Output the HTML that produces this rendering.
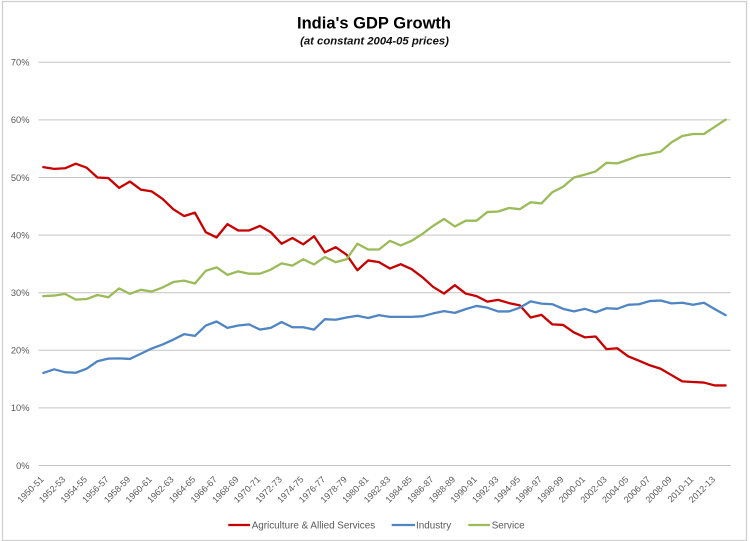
<!DOCTYPE html>
<html>
<head>
<meta charset="utf-8">
<style>
  html, body { margin: 0; padding: 0; background: #ffffff; }
  svg { display: block; }
  text { font-family: "Liberation Sans", "DejaVu Sans", sans-serif; }
</style>
</head>
<body>
<svg width="750" height="541" viewBox="0 0 750 541" xmlns="http://www.w3.org/2000/svg">
  <rect x="0" y="0" width="750" height="541" fill="#ffffff"/>
  <!-- chart border -->
  <rect x="2.5" y="1.5" width="744" height="539" fill="none" stroke="#CFCFCF" stroke-width="1.3"/>

  <!-- title -->
  <text x="374" y="28.5" font-size="16.5" font-weight="bold" fill="#000" text-anchor="middle">India's GDP Growth</text>
  <text x="374.5" y="44.5" font-size="11.3" font-weight="bold" font-style="italic" fill="#111" text-anchor="middle">(at constant 2004-05 prices)</text>

  <!-- gridlines -->
  <g stroke="#C4C4C4" stroke-width="1">
    <line x1="38.5" y1="62.3" x2="730.7" y2="62.3"/>
    <line x1="38.5" y1="119.9" x2="730.7" y2="119.9"/>
    <line x1="38.5" y1="177.5" x2="730.7" y2="177.5"/>
    <line x1="38.5" y1="235.1" x2="730.7" y2="235.1"/>
    <line x1="38.5" y1="292.7" x2="730.7" y2="292.7"/>
    <line x1="38.5" y1="350.3" x2="730.7" y2="350.3"/>
    <line x1="38.5" y1="407.9" x2="730.7" y2="407.9"/>
    <line x1="38.5" y1="465.5" x2="730.7" y2="465.5"/>
  </g>

  <!-- y-axis labels -->
  <g font-size="9.3" fill="#595959" text-anchor="end">
    <text x="29.5" y="65.6">70%</text>
    <text x="29.5" y="123.2">60%</text>
    <text x="29.5" y="180.8">50%</text>
    <text x="29.5" y="238.4">40%</text>
    <text x="29.5" y="296">30%</text>
    <text x="29.5" y="353.6">20%</text>
    <text x="29.5" y="411.2">10%</text>
    <text x="29.5" y="468.8">0%</text>
  </g>

  <!-- x-axis labels -->
  <g font-size="9" fill="#595959" text-anchor="end">
    <text transform="translate(44.3,480) rotate(-45)">1950-51</text>
    <text transform="translate(65.96,480) rotate(-45)">1952-53</text>
    <text transform="translate(87.62,480) rotate(-45)">1954-55</text>
    <text transform="translate(109.28,480) rotate(-45)">1956-57</text>
    <text transform="translate(130.94,480) rotate(-45)">1958-59</text>
    <text transform="translate(152.6,480) rotate(-45)">1960-61</text>
    <text transform="translate(174.26,480) rotate(-45)">1962-63</text>
    <text transform="translate(195.92,480) rotate(-45)">1964-65</text>
    <text transform="translate(217.58,480) rotate(-45)">1966-67</text>
    <text transform="translate(239.24,480) rotate(-45)">1968-69</text>
    <text transform="translate(260.9,480) rotate(-45)">1970-71</text>
    <text transform="translate(282.56,480) rotate(-45)">1972-73</text>
    <text transform="translate(304.22,480) rotate(-45)">1974-75</text>
    <text transform="translate(325.88,480) rotate(-45)">1976-77</text>
    <text transform="translate(347.54,480) rotate(-45)">1978-79</text>
    <text transform="translate(369.2,480) rotate(-45)">1980-81</text>
    <text transform="translate(390.86,480) rotate(-45)">1982-83</text>
    <text transform="translate(412.52,480) rotate(-45)">1984-85</text>
    <text transform="translate(434.18,480) rotate(-45)">1986-87</text>
    <text transform="translate(455.84,480) rotate(-45)">1988-89</text>
    <text transform="translate(477.5,480) rotate(-45)">1990-91</text>
    <text transform="translate(499.16,480) rotate(-45)">1992-93</text>
    <text transform="translate(520.82,480) rotate(-45)">1994-95</text>
    <text transform="translate(542.48,480) rotate(-45)">1996-97</text>
    <text transform="translate(564.14,480) rotate(-45)">1998-99</text>
    <text transform="translate(585.8,480) rotate(-45)">2000-01</text>
    <text transform="translate(607.46,480) rotate(-45)">2002-03</text>
    <text transform="translate(629.12,480) rotate(-45)">2004-05</text>
    <text transform="translate(650.78,480) rotate(-45)">2006-07</text>
    <text transform="translate(672.44,480) rotate(-45)">2008-09</text>
    <text transform="translate(694.1,480) rotate(-45)">2010-11</text>
    <text transform="translate(715.76,480) rotate(-45)">2012-13</text>
  </g>

  <!-- series -->
  <g transform="translate(43.3,465.5) scale(10.83,-5.76)" fill="none" stroke-linejoin="round" stroke-linecap="round">
    <polyline vector-effect="non-scaling-stroke" stroke="#C80000" stroke-width="2.3"
      points="0,51.8 1,51.5 2,51.6 3,52.4 4,51.7 5,50.0 6,49.9 7,48.2 8,49.3 9,47.9 10,47.6 11,46.3 12,44.5 13,43.3 14,43.9 15,40.5 16,39.6 17,41.9 18,40.8 19,40.8 20,41.6 21,40.5 22,38.5 23,39.5 24,38.4 25,39.8 26,37.0 27,37.9 28,36.6 29,33.9 30,35.6 31,35.3 32,34.2 33,34.95 34,34.1 35,32.7 36,31.0 37,29.85 38,31.3 39,29.85 40,29.4 41,28.45 42,28.75 43,28.2 44,27.8 45,25.7 46,26.15 47,24.5 48,24.4 49,23.1 50,22.25 51,22.4 52,20.2 53,20.35 54,18.95 55,18.2 56,17.4 57,16.8 58,15.7 59,14.6 60,14.5 61,14.4 62,13.9 63,13.9"/>
    <polyline vector-effect="non-scaling-stroke" stroke="#4F85C4" stroke-width="2.3"
      points="0,16.07 1,16.7 2,16.2 3,16.1 4,16.8 5,18.1 6,18.55 7,18.6 8,18.5 9,19.4 10,20.3 11,21.0 12,21.85 13,22.8 14,22.5 15,24.3 16,25.0 17,23.9 18,24.3 19,24.5 20,23.6 21,23.9 22,24.9 23,24.0 24,24.0 25,23.6 26,25.4 27,25.3 28,25.7 29,26.0 30,25.6 31,26.1 32,25.8 33,25.8 34,25.8 35,25.9 36,26.4 37,26.8 38,26.5 39,27.15 40,27.7 41,27.4 42,26.75 43,26.75 44,27.4 45,28.5 46,28.1 47,28.0 48,27.2 49,26.75 50,27.2 51,26.6 52,27.3 53,27.2 54,27.9 55,28.0 56,28.55 57,28.65 58,28.15 59,28.25 60,27.9 61,28.25 62,27.15 63,26.1"/>
    <polyline vector-effect="non-scaling-stroke" stroke="#9BBB59" stroke-width="2.3"
      points="0,29.4 1,29.5 2,29.8 3,28.8 4,28.9 5,29.6 6,29.2 7,30.75 8,29.8 9,30.5 10,30.2 11,30.9 12,31.85 13,32.1 14,31.6 15,33.8 16,34.4 17,33.1 18,33.7 19,33.3 20,33.3 21,34.0 22,35.1 23,34.7 24,35.8 25,34.9 26,36.2 27,35.3 28,35.8 29,38.5 30,37.5 31,37.5 32,39.0 33,38.2 34,39.0 35,40.2 36,41.6 37,42.8 38,41.5 39,42.5 40,42.5 41,44.0 42,44.1 43,44.7 44,44.5 45,45.7 46,45.5 47,47.45 48,48.4 49,50.0 50,50.5 51,51.05 52,52.55 53,52.45 54,53.1 55,53.8 56,54.1 57,54.5 58,56.1 59,57.2 60,57.55 61,57.55 62,58.8 63,60.05"/>
  </g>

  <!-- legend -->
  <g stroke-width="2.3">
    <line x1="228.3" y1="525" x2="250" y2="525" stroke="#C80000"/>
    <line x1="391.7" y1="525" x2="415" y2="525" stroke="#4F85C4"/>
    <line x1="468.3" y1="525" x2="490" y2="525" stroke="#9BBB59"/>
  </g>
  <g font-size="9.9" fill="#595959">
    <text x="251.7" y="528.5">Agriculture &amp; Allied Services</text>
    <text x="416" y="528.5">Industry</text>
    <text x="491.7" y="528.5">Service</text>
  </g>
</svg>
</body>
</html>
